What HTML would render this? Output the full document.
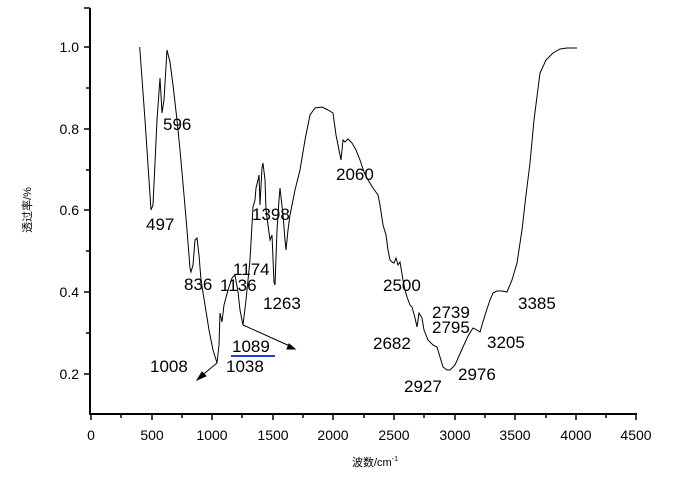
<!DOCTYPE html>
<html><head><meta charset="utf-8"><style>
body{margin:0;background:#fff}
svg text{font-family:"Liberation Sans","Noto Sans CJK SC",sans-serif}
</style></head><body>
<svg width="693" height="478" xmlns="http://www.w3.org/2000/svg">
<g stroke="#000" stroke-width="2" fill="none">
<line x1="90" y1="8" x2="90" y2="415"/>
<line x1="89" y1="414" x2="637" y2="414"/>
</g>
<g stroke="#000" stroke-width="1.5">
<line x1="84" y1="47" x2="90" y2="47"/><line x1="84" y1="129" x2="90" y2="129"/>
<line x1="84" y1="210" x2="90" y2="210"/><line x1="84" y1="292" x2="90" y2="292"/>
<line x1="84" y1="374" x2="90" y2="374"/><line x1="84" y1="8" x2="90" y2="8"/>
<line x1="86" y1="88" x2="90" y2="88"/><line x1="86" y1="170" x2="90" y2="170"/>
<line x1="86" y1="251" x2="90" y2="251"/><line x1="86" y1="333" x2="90" y2="333"/>
<line x1="91" y1="414" x2="91" y2="420"/><line x1="152" y1="414" x2="152" y2="420"/>
<line x1="212" y1="414" x2="212" y2="420"/><line x1="273" y1="414" x2="273" y2="420"/>
<line x1="333" y1="414" x2="333" y2="420"/><line x1="394" y1="414" x2="394" y2="420"/>
<line x1="455" y1="414" x2="455" y2="420"/><line x1="515" y1="414" x2="515" y2="420"/>
<line x1="576" y1="414" x2="576" y2="420"/><line x1="636" y1="414" x2="636" y2="420"/>
<line x1="121" y1="414" x2="121" y2="418"/><line x1="182" y1="414" x2="182" y2="418"/>
<line x1="242" y1="414" x2="242" y2="418"/><line x1="303" y1="414" x2="303" y2="418"/>
<line x1="364" y1="414" x2="364" y2="418"/><line x1="424" y1="414" x2="424" y2="418"/>
<line x1="485" y1="414" x2="485" y2="418"/><line x1="546" y1="414" x2="546" y2="418"/>
<line x1="606" y1="414" x2="606" y2="418"/>
</g>
<g font-size="14" fill="#000" text-anchor="end">
<text x="79" y="52">1.0</text><text x="79" y="134">0.8</text>
<text x="79" y="215">0.6</text><text x="79" y="297">0.4</text><text x="79" y="379">0.2</text>
</g>
<g font-size="14" fill="#000" text-anchor="middle">
<text x="91" y="440">0</text><text x="152" y="440">500</text><text x="212" y="440">1000</text>
<text x="273" y="440">1500</text><text x="333" y="440">2000</text><text x="394" y="440">2500</text>
<text x="455" y="440">3000</text><text x="515" y="440">3500</text><text x="576" y="440">4000</text>
<text x="636" y="440">4500</text>
</g>
<text x="352" y="466" font-size="11">波数/cm<tspan font-size="7" dy="-5">-1</tspan></text>
<text transform="translate(31,210) rotate(-90)" font-size="11" text-anchor="middle">透过率/%</text>
<polyline fill="none" stroke="#000" stroke-width="1" points="139.7,47 145,120 151,210 153,205 157,120 160,78 161,95 162,113 164,100 167,50 170,62 173,85 177,120 180,150 184,195 187,230 190,268 191,272 193,265 195,240 197,238 199,255 201,280 205,305 209,330 213,350 217,363 219,345 220,313 222,322 224,305 228,290 232,278 235,275 238,292 240,310 243,325 246,300 250,260 253,207 255,200 256,188 258,180 259,175 260,205 262,168 263,163 265,180 266,210 268,225 270,240 272,235 274,282 275,285 277,230 279,200 280,188 283,215 285,240 286,250 288,230 290,215 295,190 300,170 305,140 310,115 315,108 322,107 328,110 333,113 336,135 338,145 341,160 343,140 345,142 348,139 352,143 356,150 360,160 364,172 368,180 373,188 378,195 380,205 383,225 386,235 388,250 390,260 392,262 394,263 396,258 398,265 400,262 403,280 405,290 407,297 410,305 412,307 415,318 417,327 419,313 422,318 424,330 428,340 433,345 437,347 440,357 443,367 447,370 450,370 453,367 455,365 459,356 463,347 468,336 473,328 477,330 480,332 485,315 490,300 493,293 497,291 502,291 507,292 512,280 517,263 522,230 526,195 530,163 534,120 540,73 546,60 553,53 560,49 567,48 572,48 577,48"/>
<g fill="#000" stroke="#000" stroke-width="1">
<line x1="217" y1="363" x2="200" y2="377"/>
<polygon points="197,380 202,372 206,376"/>
<line x1="243" y1="325" x2="292" y2="347"/>
<polygon points="295,349 287,349 289,344"/>
</g>
<line x1="231" y1="356" x2="275" y2="356" stroke="#1f3fd0" stroke-width="2"/>
<g font-size="17" fill="#000">
<text x="163" y="130">596</text><text x="146" y="230">497</text>
<text x="336" y="180">2060</text><text x="252" y="220">1398</text>
<text x="233" y="275">1174</text><text x="184" y="290">836</text>
<text x="220" y="291">1136</text><text x="263" y="309">1263</text>
<text x="383" y="291">2500</text><text x="432" y="318">2739</text>
<text x="432" y="333">2795</text><text x="373" y="349">2682</text>
<text x="518" y="309">3385</text><text x="487" y="348">3205</text>
<text x="232" y="352">1089</text><text x="150" y="372">1008</text>
<text x="226" y="372">1038</text><text x="458" y="380">2976</text>
<text x="404" y="392">2927</text>
</g>
</svg>
</body></html>
